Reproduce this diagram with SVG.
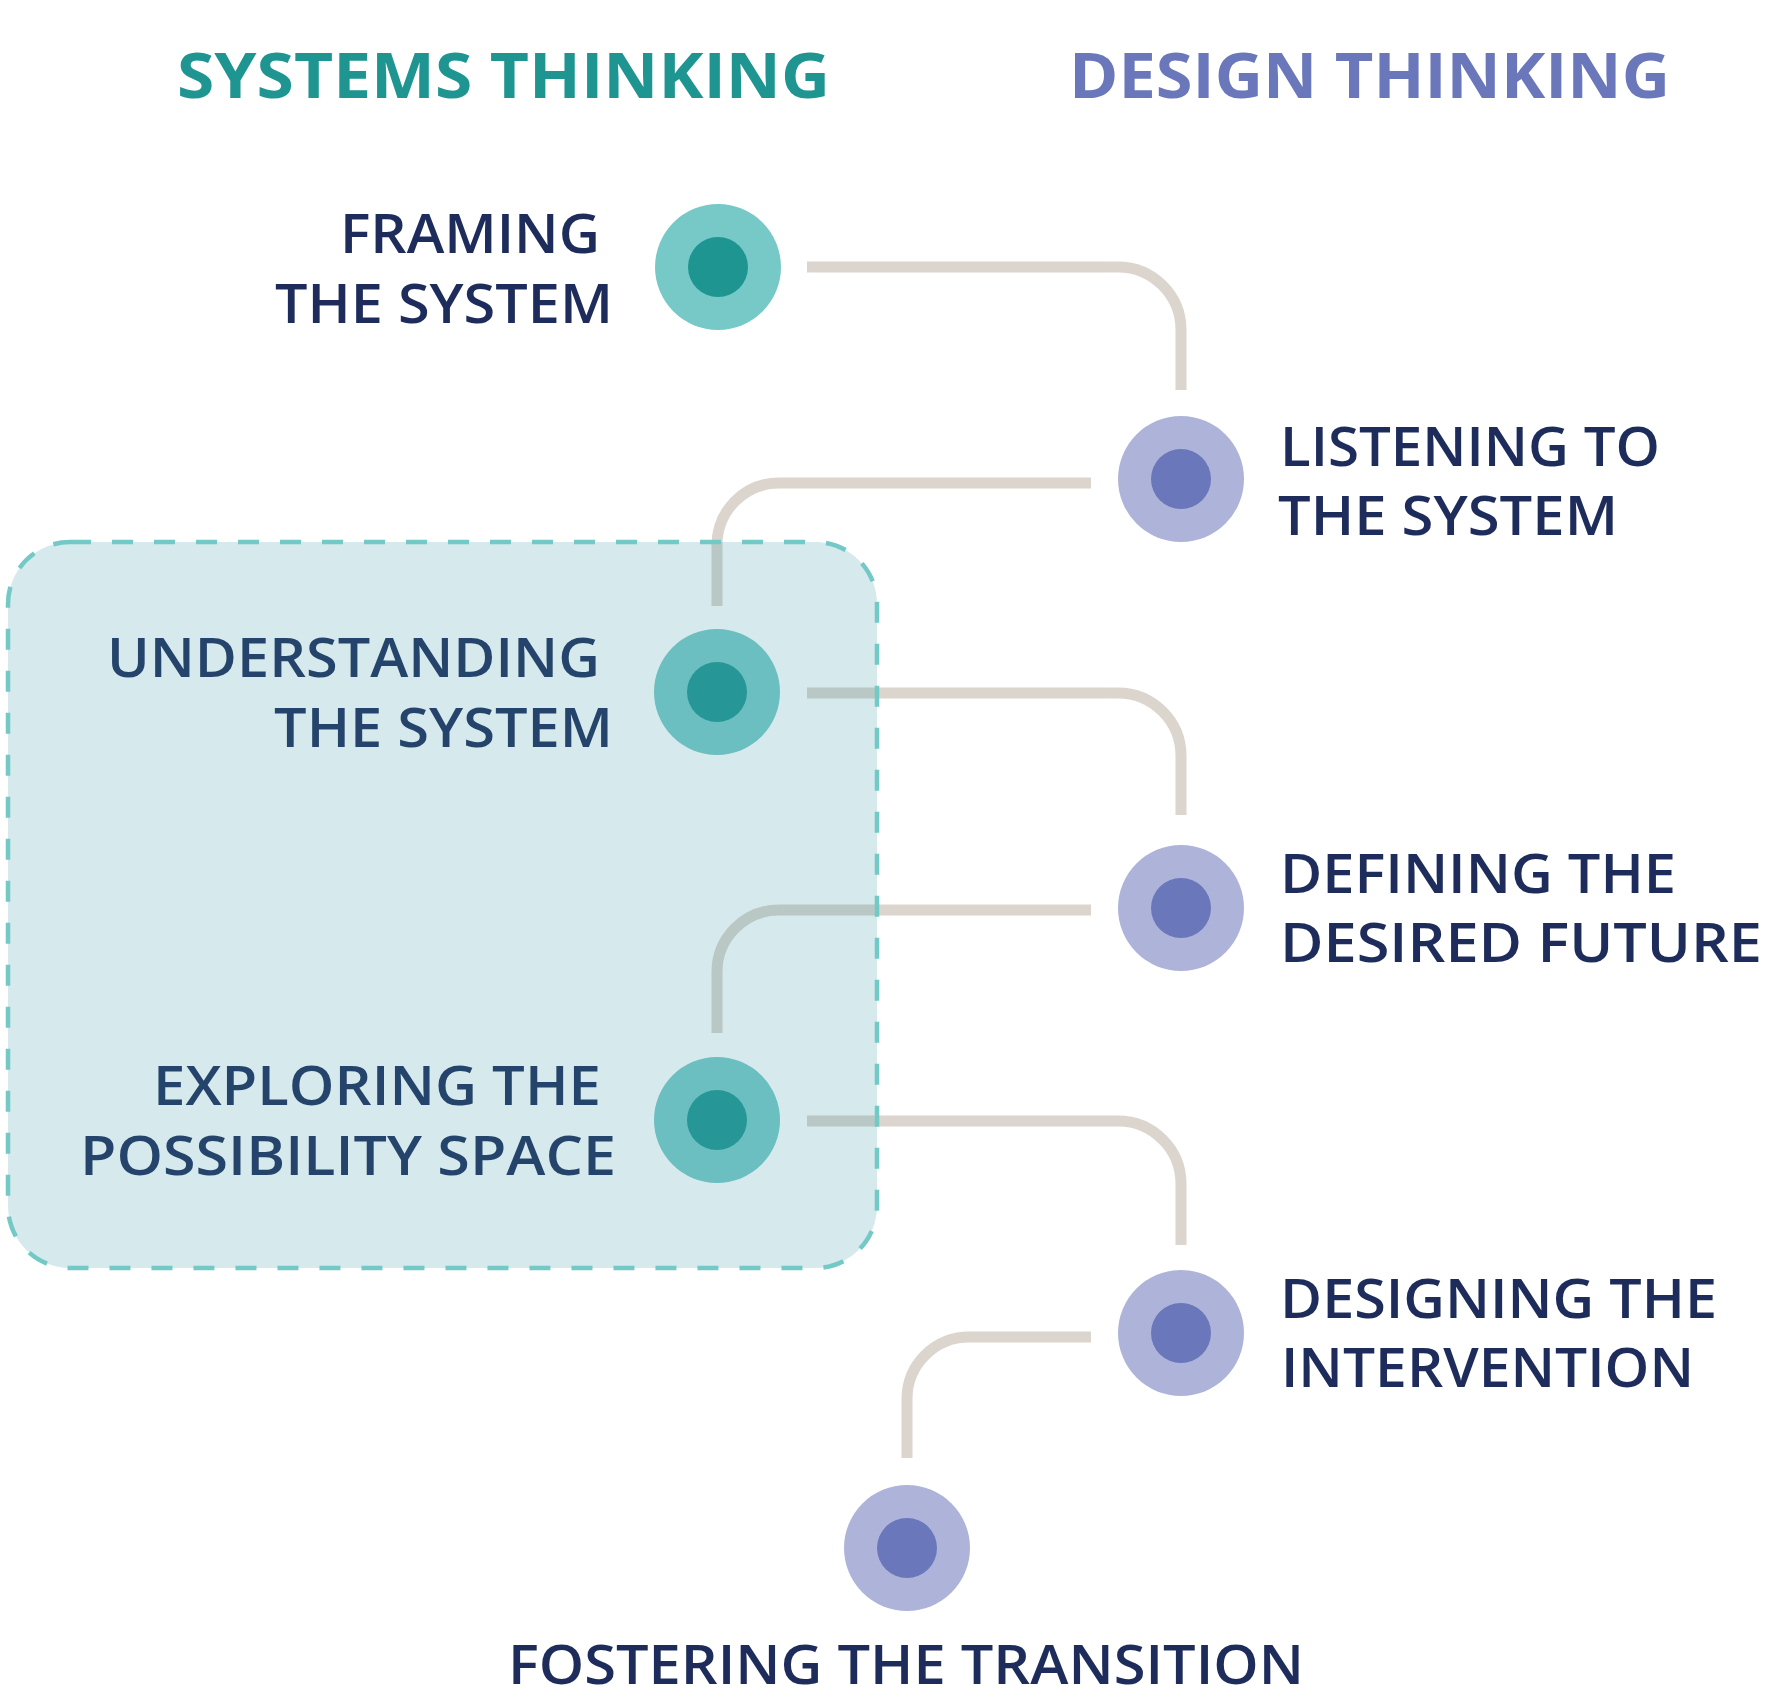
<svg xmlns="http://www.w3.org/2000/svg" width="1767" height="1700" viewBox="0 0 1767 1700">
<style>
  .title { font-family: "Open Sans", "Liberation Sans", sans-serif; font-weight: 700; font-size: 63px; }
  .lbl { font-family: "Open Sans", "Liberation Sans", sans-serif; font-weight: 600; font-size: 55px; fill: #1d2c5a; }
  .conn { fill: none; stroke: #dbd5ce; stroke-width: 11; stroke-linecap: butt; }
  .st-outer { fill: #76c9c7; }
  .st-inner { fill: #1e9591; }
  .dt-outer { fill: #aeb4d9; }
  .dt-inner { fill: #6a78bb; }
</style>
<rect width="1767" height="1700" fill="#ffffff"/>
<g id="titles">
  <text class="title" x="177" y="98" fill="#1e9591" textLength="653" lengthAdjust="spacingAndGlyphs">SYSTEMS THINKING</text>
  <text class="title" x="1069" y="98" fill="#6a78bb" textLength="601" lengthAdjust="spacingAndGlyphs">DESIGN THINKING</text>
</g>
<g id="connectors">
  <path class="conn" d="M807,267 H1118 A63,63 0 0 1 1181,330 V390"/>
  <path class="conn" d="M1091,483 H779 A62,62 0 0 0 717,545 V606"/>
  <path class="conn" d="M807,693 H1118 A63,63 0 0 1 1181,756 V815"/>
  <path class="conn" d="M1091,910 H779 A62,62 0 0 0 717,972 V1033"/>
  <path class="conn" d="M807,1121 H1118 A63,63 0 0 1 1181,1184 V1245"/>
  <path class="conn" d="M1091,1337 H969 A62,62 0 0 0 907,1399 V1458"/>
</g>
<g id="node-framing">
  <circle class="st-outer" cx="718" cy="267" r="63"/>
  <circle class="st-inner" cx="718" cy="267" r="30"/>
  <text class="lbl" x="340" y="253" textLength="260" lengthAdjust="spacingAndGlyphs">FRAMING</text>
  <text class="lbl" x="275" y="323" textLength="338" lengthAdjust="spacingAndGlyphs">THE SYSTEM</text>
</g>
<g id="node-listening">
  <circle class="dt-outer" cx="1181" cy="479" r="63"/>
  <circle class="dt-inner" cx="1181" cy="479" r="30"/>
  <text class="lbl" x="1280" y="466" textLength="380" lengthAdjust="spacingAndGlyphs">LISTENING TO</text>
  <text class="lbl" x="1278" y="535" textLength="340" lengthAdjust="spacingAndGlyphs">THE SYSTEM</text>
</g>
<g id="node-understanding">
  <circle class="st-outer" cx="717" cy="692" r="63"/>
  <circle class="st-inner" cx="717" cy="692" r="30"/>
  <text class="lbl" x="107" y="677" textLength="493" lengthAdjust="spacingAndGlyphs">UNDERSTANDING</text>
  <text class="lbl" x="274" y="747" textLength="339" lengthAdjust="spacingAndGlyphs">THE SYSTEM</text>
</g>
<g id="node-defining">
  <circle class="dt-outer" cx="1181" cy="908" r="63"/>
  <circle class="dt-inner" cx="1181" cy="908" r="30"/>
  <text class="lbl" x="1280" y="893" textLength="396" lengthAdjust="spacingAndGlyphs">DEFINING THE</text>
  <text class="lbl" x="1280" y="962" textLength="482" lengthAdjust="spacingAndGlyphs">DESIRED FUTURE</text>
</g>
<g id="node-exploring">
  <circle class="st-outer" cx="717" cy="1120" r="63"/>
  <circle class="st-inner" cx="717" cy="1120" r="30"/>
  <text class="lbl" x="153" y="1105" textLength="448" lengthAdjust="spacingAndGlyphs">EXPLORING THE</text>
  <text class="lbl" x="80" y="1175" textLength="536" lengthAdjust="spacingAndGlyphs">POSSIBILITY SPACE</text>
</g>
<g id="node-designing">
  <circle class="dt-outer" cx="1181" cy="1333" r="63"/>
  <circle class="dt-inner" cx="1181" cy="1333" r="30"/>
  <text class="lbl" x="1280" y="1318" textLength="437" lengthAdjust="spacingAndGlyphs">DESIGNING THE</text>
  <text class="lbl" x="1281" y="1387" textLength="413" lengthAdjust="spacingAndGlyphs">INTERVENTION</text>
</g>
<g id="node-fostering">
  <circle class="dt-outer" cx="907" cy="1548" r="63"/>
  <circle class="dt-inner" cx="907" cy="1548" r="30"/>
  <text class="lbl" x="508" y="1684" textLength="796" lengthAdjust="spacingAndGlyphs">FOSTERING THE TRANSITION</text>
</g>
<g id="group-box">
  <rect x="8" y="542" width="869" height="726" rx="62" ry="62" fill="rgb(69,155,169)" fill-opacity="0.22" stroke="none"/>
  <rect x="8" y="542" width="869" height="726" rx="62" ry="62" fill="none" stroke="#72c9c6" stroke-width="4.5" stroke-dasharray="21 21"/>
</g>
</svg>
